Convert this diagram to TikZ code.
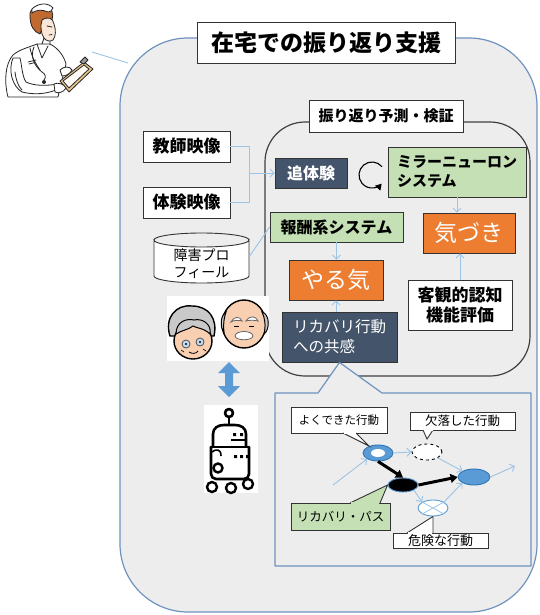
\documentclass[tikz,border=0pt]{standalone}
\usepackage{fontspec}
\newfontfamily\jp{Noto Sans CJK JP}
\usetikzlibrary{shapes.geometric,arrows.meta,calc}
\definecolor{panel}{HTML}{EDEDED}
\definecolor{steel}{HTML}{6F93BF}
\definecolor{connblue}{HTML}{9DC3E6}
\definecolor{navy}{HTML}{44546A}
\definecolor{leaf}{HTML}{C5E0B4}
\definecolor{carrot}{HTML}{ED7D31}
\definecolor{sky}{HTML}{5B9BD5}
\definecolor{deepsky}{HTML}{2E75B6}
\definecolor{skin}{HTML}{F8CFB0}
\definecolor{hairgray}{HTML}{C9C9C9}
\definecolor{tan}{HTML}{E6C68C}
\definecolor{auburn}{HTML}{C06A30}
\tikzset{
  box/.style={draw=black!80, line width=0.9, inner sep=0, align=center, font=\jp},
  conn/.style={draw=connblue, line width=0.9},
  arr/.style={conn, -{Straight Barb[length=4,width=8]}},
  thick arr/.style={draw=black, line width=3, -{Triangle[length=7,width=9]}},
  callout/.style={draw=black!80, line width=0.9, fill=white},
  evt/.style={ellipse, inner sep=0, minimum width=30, minimum height=16, line width=0.9},
  ink/.style={draw=black!85, line width=0.8, line join=round, line cap=round},
  bot/.style={draw=black, line width=2.6, line cap=round, line join=round},
}
\begin{document}
\begin{tikzpicture}[x=1pt,y=-1pt]
\useasboundingbox (0,0) rectangle (539,615);

% outer panel
\path[draw=steel, fill=panel, line width=1.2, rounded corners=68] (120,38) rectangle (537,612);
\node[box, fill=white, font=\jp\bfseries\fontsize{23}{26}\selectfont, minimum width=258, minimum height=41] (title) at (326,42.5) {在宅での振り返り支援};

% nurse with clipboard
\coordinate (nurse) at (92,52);
\begin{scope}
  % coat
  \path[ink, fill=white] (8,97) .. controls (4,82) and (5,64) .. (13,55) .. controls (20,49) and (30,47) .. (37,44) -- (50,44) .. controls (58,48) and (64,56) .. (66,64) -- (62,80) -- (58,97) -- cycle;
  % sleeve and forearm
  \path[ink, fill=white] (13,58) .. controls (8,70) and (12,86) .. (22,92) .. controls (34,95) and (46,94) .. (56,90) -- (58,84) .. controls (46,86) and (34,86) .. (26,82) .. controls (22,76) and (22,66) .. (20,58) -- cycle;
  \draw[ink] (15,72) .. controls (16,80) and (18,86) .. (22,90);
  % lapels
  \draw[ink] (37,44) -- (42,58) -- (48,46);
  \draw[ink] (30,48) .. controls (32,58) and (36,64) .. (40,70);
  % stethoscope
  \draw[ink] (34,47) .. controls (30,56) and (34,66) .. (42,72) .. controls (46,74) and (46,78) .. (44,80);
  \fill[black!85] (44,82) circle (2);
  % name tag
  \draw[ink] (28,62) -- (36,60) (29,64) -- (35,62.5);
  % head
  \path[ink, fill=auburn] (30,16) .. controls (29,8) and (38,4) .. (46,6) .. controls (52,8) and (54,14) .. (52,20) .. controls (46,22) and (42,28) .. (40,34) .. controls (34,32) and (30,26) .. (30,16) -- cycle;
  \path[ink, fill=white] (32,9) .. controls (38,3) and (48,2) .. (53,8) .. controls (52,11) and (50,12) .. (48,12) .. controls (42,9) and (36,10) .. (32,13) -- cycle;
  \path[ink, fill=skin!50!white] (42,20) .. controls (48,16) and (53,18) .. (54,24) .. controls (56,30) and (56,36) .. (53,40) .. controls (50,42) and (46,41) .. (44,38) .. controls (41,34) and (40,26) .. (42,20) -- cycle;
  \draw[ink] (47,26) -- (52,27);
  \draw[ink] (49,35) -- (52,34.5);
  \draw[ink] (44,38) -- (42,44) (50,41) -- (50,45);
  % clipboard
  \path[ink, fill=tan] (60,81) -- (84,62) -- (93,69) -- (69,92) -- cycle;
  \path[ink, fill=white!92!tan] (63,81) -- (84,65) -- (89,69) -- (69,88) -- cycle;
  \path[ink, fill=black!40] (80,62) -- (85,57) -- (88,60) -- (84,64) -- cycle;
  % hands
  \path[ink, fill=white] (54,84) .. controls (58,82) and (64,84) .. (66,88) .. controls (64,92) and (58,94) .. (55,92) -- cycle;
  \path[ink, fill=white] (60,70) .. controls (64,66) and (70,66) .. (72,70) .. controls (70,74) and (66,76) .. (62,76) -- cycle;
\end{scope}
\draw[conn] (nurse) -- (128,63);

% prediction / verification frame
\draw[draw=black!75, line width=1.2, rounded corners=40] (265,122) rectangle (530,376);
\node[box, fill=white, font=\jp\bfseries\fontsize{15}{18}\selectfont, minimum width=154, minimum height=32] (frame) at (386,116) {振り返り予測・検証};

% video sources
\node[box, fill=white, font=\jp\bfseries\fontsize{17}{20}\selectfont, minimum width=87, minimum height=31] (kyoshi) at (186.5,146.5) {教師映像};
\node[box, fill=white, font=\jp\bfseries\fontsize{17}{20}\selectfont, minimum width=87, minimum height=31] (taiken) at (186.5,202.5) {体験映像};

% profile database
\coordinate (db) at (249,257);
\path[draw=black!80, fill=white, line width=0.9] (154,240) -- (154,276) arc (180:0:47.5 and 7) -- (249,240) arc (0:180:47.5 and 7) -- cycle;
\draw[black!80, line width=0.9] (154,240) arc (180:360:47.5 and 7);
\node[font=\jp\fontsize{14}{17}\selectfont, align=center, inner sep=0] (dbtext) at (201.5,263.5) {障害プロ\\フィール};

% inner blocks
\node[box, fill=navy, text=white, font=\jp\bfseries\fontsize{16}{19}\selectfont, minimum width=72, minimum height=30] (tsui) at (311,173) {追体験};
\node[box, fill=leaf, font=\jp\bfseries\fontsize{15}{19}\selectfont, align=left, minimum width=138, minimum height=50] (mirror) at (457,172) {ミラーニューロン\\システム};
\node[box, fill=carrot, text=white, font=\jp\fontsize{23}{26}\selectfont, minimum width=92, minimum height=40] (kizuki) at (469,233) {気づき};
\node[box, fill=white, font=\jp\bfseries\fontsize{17}{20}\selectfont, minimum width=104, minimum height=50] (kyakkan) at (460,305) {客観的認知\\機能評価};
\node[box, fill=leaf, font=\jp\bfseries\fontsize{16}{19}\selectfont, minimum width=133, minimum height=30] (hoshu) at (336.5,227) {報酬系システム};
\node[box, fill=carrot, text=white, font=\jp\fontsize{23}{26}\selectfont, minimum width=94, minimum height=40] (yaruki) at (336,280) {やる気};
\node[box, fill=navy, text=white, font=\jp\fontsize{15.5}{20}\selectfont, align=left, minimum width=115, minimum height=50] (kyokan) at (339.5,337) {リカバリ行動\\への共感};

% loop symbol
\coordinate (loop) at (372,175);
\draw[black, line width=1.1, -{Triangle[length=6,width=7]}] ($(loop)+(-40:13)$) arc (-40:-318:13);

% connectors
\coordinate (merge) at (249,173);
\draw[conn] (kyoshi.east) -| (merge);
\draw[conn] (taiken.east) -| (merge);
\draw[arr] (merge) -- (tsui.west);
\draw[conn] (db) -- (hoshu.west);
\draw[arr] (hoshu.south) -- (hoshu.south |- yaruki.north);
\draw[arr] (kyokan.north -| yaruki.south) -- (yaruki.south);
\draw[arr] (mirror.south) -- (mirror.south |- kizuki.north);
\draw[arr] (kyakkan.north) -- (kyakkan.north |- kizuki.south);

% elderly couple
\fill[white] (167,296) rectangle (269,361);
\begin{scope}
  \path[draw=black, line width=1.4, fill=hairgray] (170,336) .. controls (164,318) and (176,304) .. (192,306) .. controls (208,306) and (218,318) .. (214,336) -- cycle;
  \path[draw=black, line width=1.4, fill=skin] (193,341) ellipse (19 and 18);
  \path[draw=black, line width=1, fill=hairgray] (176,334) .. controls (176,322) and (186,318) .. (194,320) .. controls (202,318) and (212,324) .. (210,334) .. controls (204,328) and (196,328) .. (193,326) .. controls (188,330) and (182,330) .. (176,334) -- cycle;
  \path[draw=black!70, line width=0.8, fill=connblue!60] (186,344) circle (4) (200,342) circle (4);
  \fill[black] (186,344) circle (1.1) (200,342) circle (1.1);
  \draw[black, line width=0.8] (189,352) .. controls (192,354) and (196,354) .. (198,351);
  \draw[black, line width=0.6] (181,350) -- (184,352) (203,349) -- (206,351);
  \path[draw=black, line width=1.4, fill=skin] (244,324) ellipse (22 and 24);
  \path[draw=black, line width=1, fill=hairgray] (262,312) .. controls (270,314) and (270,330) .. (264,334) .. controls (266,326) and (265,318) .. (262,312) -- cycle;
  \path[draw=black, line width=1, fill=hairgray] (226,312) .. controls (220,316) and (220,328) .. (224,332) .. controls (223,324) and (224,318) .. (226,312) -- cycle;
  \path[draw=black!60, line width=0.8, fill=white] (231,322) .. controls (234,316) and (240,316) .. (242,321) .. controls (238,320) and (234,320) .. (231,322) -- cycle;
  \path[draw=black!60, line width=0.8, fill=white] (246,321) .. controls (250,315) and (256,316) .. (258,321) .. controls (254,320) and (250,320) .. (246,321) -- cycle;
  \draw[black, line width=0.8] (234,326) -- (239,326) (249,326) -- (254,326);
  \path[draw=black!60, line width=0.8, fill=white] (235,336) .. controls (236,330) and (252,330) .. (253,336) .. controls (252,341) and (236,341) .. (235,336) -- cycle;
\end{scope}

% double arrow between the couple and the robot
\path[fill=sky] (229,362) -- (240,373) -- (233,373) -- (233,386) -- (240,386) -- (229,397) -- (218,386) -- (225,386) -- (225,373) -- (218,373) -- cycle;

% robot
\fill[white] (204,405) rectangle (258,493);
\begin{scope}
  \draw[bot] (229,413) circle (4);
  \draw[bot] (229,417) -- (229,425);
  \draw[bot] (213,446) -- (213,434) .. controls (213,428) and (218,425) .. (224,425) -- (235,425) .. controls (241,425) and (246,428) .. (246,434) -- (246,446);
  \draw[bot] (211,447) -- (248,447);
  \draw[bot, rounded corners=5] (211,447) -- (211,479) -- (249,479) -- (249,447);
  \fill[black] (233,433) rectangle (236,436) (240,433) rectangle (243,436);
  \draw[black, line width=1.6] (231,440) -- (245,440);
  \fill[black] (234,455) rectangle (237,458) (240,455) rectangle (243,458) (246,455) rectangle (248,458);
  \draw[black, line width=1.6] (212,452) .. controls (216,448) and (222,450) .. (221,456);
  \draw[black, line width=2.4] (218,468) circle (4.5);
  \draw[black, line width=2.4] (212,487) circle (5) (231,488) circle (5) (248,484) circle (5);
\end{scope}

% behaviour graph panel
\path[draw=steel, fill=panel, line width=1.2, line join=round] (275,393) -- (318,393) -- (kyokan.south) -- (382,393) -- (531,393) -- (531,566) -- (275,566) -- cycle;

\node[evt, draw=deepsky, fill=sky] (good) at (378,453) {};
\fill[white] (good.center) ellipse (7 and 4);
\node[evt, draw=black, dashed, fill=white] (miss) at (427,452) {};
\node[evt, draw=sky, fill=black, minimum height=14] (recov) at (403,485) {};
\node[evt, draw=deepsky, fill=sky, minimum width=32] (goal) at (474,477) {};
\node[evt, draw=sky, fill=white] (danger) at (433,508) {};
\draw[connblue, line width=0.8] (danger.north west) -- (danger.south east) (danger.north east) -- (danger.south west);

\coordinate (entry) at (333,485);
\coordinate (exit) at (515,466);
\draw[arr] (entry) -- (good.south west);
\draw[arr] (good.east) -- (miss.west);
\draw[thick arr] (good.south) -- (recov.north);
\draw[arr] (miss.south east) -- (goal.north west);
\draw[thick arr] (recov.east) -- (goal.west);
\draw[arr] (recov.south east) -- (danger.north west);
\draw[arr] (danger.north east) -- (goal.south west);
\draw[arr] (goal.east) -- (exit);

% callouts
\path[callout] (291,407) rectangle (387,433);
\path[callout] (343,433) -- (369,446) -- (356,433);
\fill[white] (343.5,432) rectangle (355.5,433.8);
\node[font=\jp\fontsize{11.5}{14}\selectfont, inner sep=0] (lgood) at (339,420) {よくできた行動};

\path[callout] (410,412) rectangle (515,430);
\path[callout] (423,430) -- (427,439) -- (433,430);
\fill[white] (423.5,429) rectangle (432.5,430.8);
\node[font=\jp\fontsize{12.5}{15}\selectfont, inner sep=0] (lmiss) at (462.5,421) {欠落した行動};

\path[callout, fill=leaf] (291,503) rectangle (390,530);
\path[callout, fill=leaf] (350,503) -- (recov.west) -- (380,503);
\fill[leaf] (350.6,502) rectangle (379.4,504);
\node[font=\jp\fontsize{12.5}{15}\selectfont, inner sep=0] (lrecov) at (340.5,516.5) {リカバリ・パス};

\path[callout] (393,533) rectangle (488,548);
\path[callout] (407,533) -- (danger.south) -- (433,533);
\fill[white] (407.6,532) rectangle (432.4,534);
\node[font=\jp\fontsize{13}{15}\selectfont, inner sep=0] (ldanger) at (440.5,540.5) {危険な行動};
\end{tikzpicture}
\end{document}
